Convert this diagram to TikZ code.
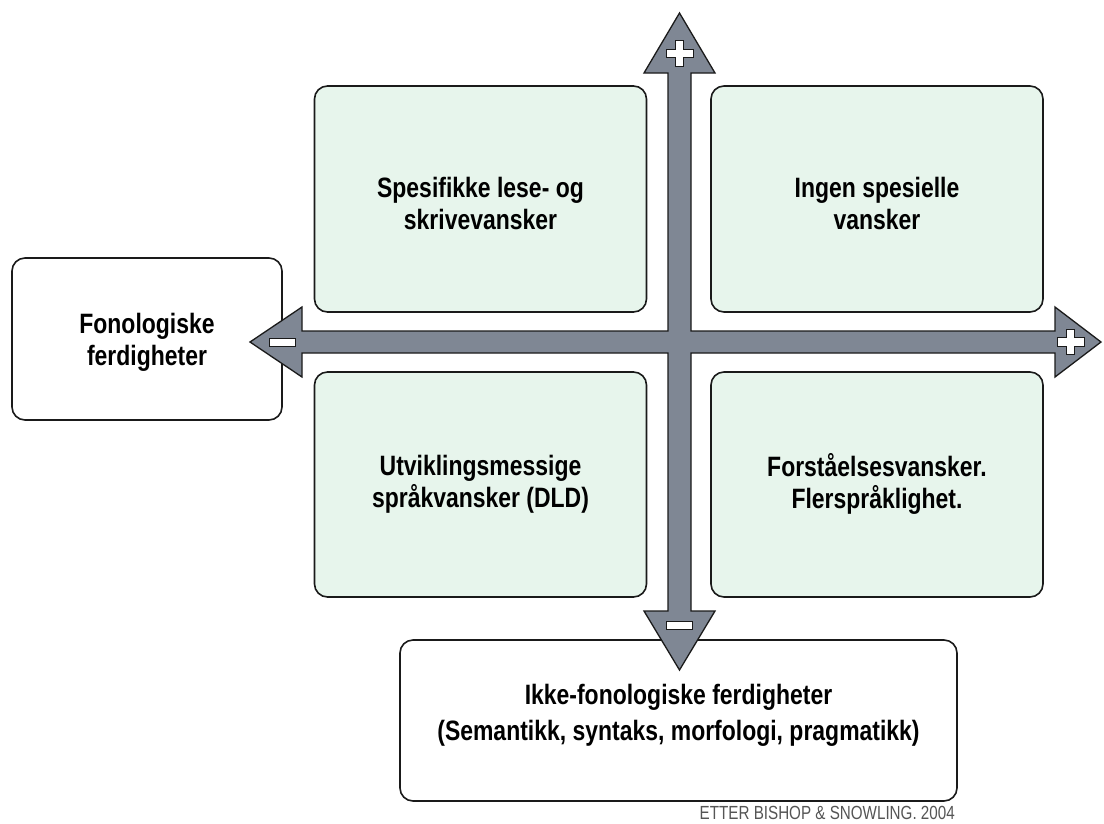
\documentclass[tikz,border=0pt]{standalone}
\usepackage{fontspec}
\setmainfont[FakeStretch=0.82]{Liberation Sans}
\newfontfamily\creditfont[FakeStretch=0.8]{Liberation Sans}
\definecolor{edge}{HTML}{1A1A1A}
\definecolor{boxgreen}{HTML}{E7F5EC}
\definecolor{arrowgray}{HTML}{7F8794}
\definecolor{creditgray}{HTML}{555555}
\tikzset{
  quad/.style={draw=edge, line width=1.6pt, rounded corners=13pt, fill=boxgreen,
    minimum width=332pt, minimum height=226pt, align=center, inner sep=0pt,
    font=\bfseries\fontsize{28}{32}\selectfont},
  axisbox/.style={draw=edge, line width=1.6pt, rounded corners=13pt, fill=white,
    align=center, inner sep=0pt, font=\bfseries\fontsize{28}{32}\selectfont},
  crossarrow/.style={draw=edge, line width=1.3pt, fill=arrowgray, line join=miter},
  sign/.style={draw=edge, line width=1pt, fill=white}
}
\begin{document}
\begin{tikzpicture}[x=1pt,y=-1pt]
\useasboundingbox (0,0) rectangle (1104,823);
% quadrant boxes
\node[quad] (tl) at (480.5,199) {};
\node[quad] (tr) at (877,199) {};
\node[quad, minimum height=225pt] (bl) at (480.5,484.5) {};
\node[quad, minimum height=225pt] (br) at (877,484.5) {};
\node[quad, draw=none, fill=none, minimum width=0pt, minimum height=0pt] (tltext) at (480.5,203) {Spesifikke lese- og\\skrivevansker};
\node[quad, draw=none, fill=none, minimum width=0pt, minimum height=0pt] (trtext) at (877,203) {Ingen spesielle\\vansker};
\node[quad, draw=none, fill=none, minimum width=0pt, minimum height=0pt] (bltext) at (480.5,484) {Utviklingsmessige\\språkvansker (DLD)};
\node[quad, draw=none, fill=none, minimum width=0pt, minimum height=0pt] (brtext) at (877,484) {Forståelsesvansker.\\Flerspråklighet.};
% axis boxes
\node[axisbox, minimum width=270pt, minimum height=162pt] (left) at (147,339) {};
\node[axisbox, draw=none, fill=none] (lefttext) at (147,342) {Fonologiske\\ferdigheter};
\node[axisbox, minimum width=557pt, minimum height=161pt] (bottom) at (678.5,720.5) {};
\node[font=\bfseries\fontsize{28}{36}\selectfont, align=center, inner sep=0pt] (bottomtext) at (678.5,715) {Ikke-fonologiske ferdigheter\\(Semantikk, syntaks, morfologi, pragmatikk)};
% cross of arrows
\draw[crossarrow] (679.5,13) -- (715,73) -- (691,73) -- (691,331) -- (1055,331) -- (1055,307)
  -- (1101,342) -- (1055,377) -- (1055,353) -- (691,353) -- (691,611) -- (715,611)
  -- (679.5,670) -- (644,611) -- (668,611) -- (668,353) -- (302,353) -- (302,377)
  -- (250,342) -- (302,307) -- (302,331) -- (668,331) -- (668,73) -- (644,73) -- cycle;
% signs
\draw[sign] (675.5,40) -- (683.5,40) -- (683.5,49) -- (693,49) -- (693,57.5) -- (683.5,57.5)
  -- (683.5,66) -- (675.5,66) -- (675.5,57.5) -- (666,57.5) -- (666,49) -- (675.5,49) -- cycle;
\draw[sign] (1066.5,329) -- (1074.5,329) -- (1074.5,337.5) -- (1084,337.5) -- (1084,346) -- (1074.5,346)
  -- (1074.5,354) -- (1066.5,354) -- (1066.5,346) -- (1057,346) -- (1057,337.5) -- (1066.5,337.5) -- cycle;
\draw[sign] (269,338) rectangle (295,346);
\draw[sign] (666,621.5) rectangle (692,629.5);
% credit
\node[anchor=base east, text=creditgray, font=\creditfont\fontsize{19}{21}\selectfont, inner sep=0pt] (credit) at (955,819) {ETTER BISHOP \& SNOWLING. 2004};
\end{tikzpicture}
\end{document}
